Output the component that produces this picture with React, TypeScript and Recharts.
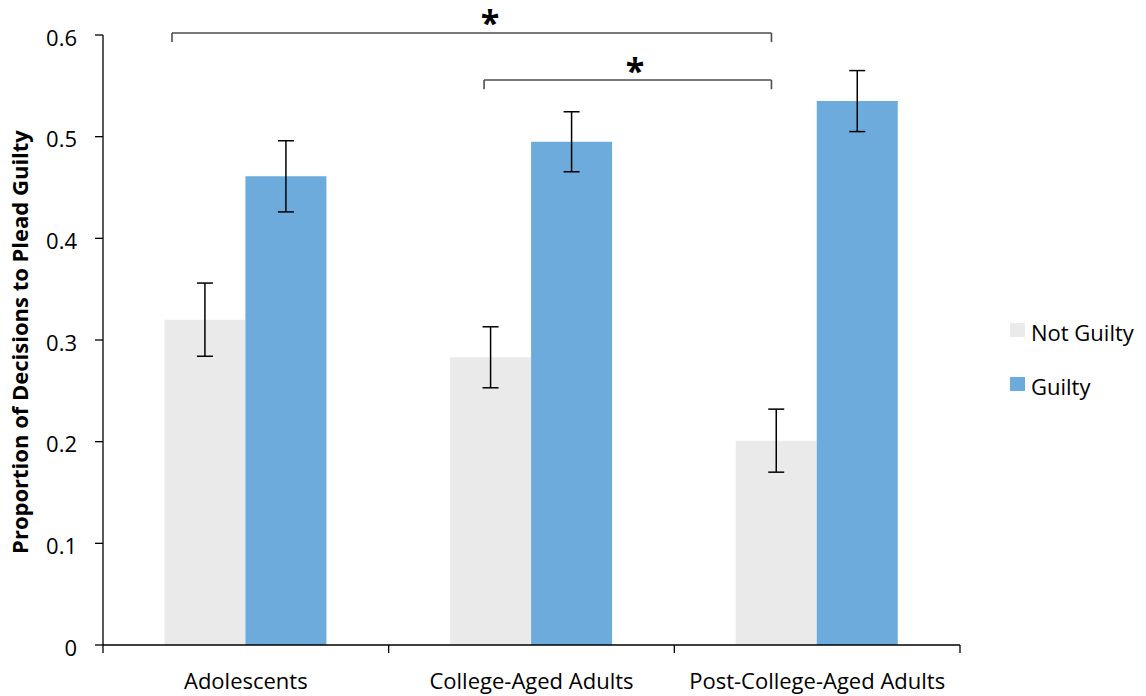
import React from 'react';
import { BarChart, Bar, XAxis, YAxis, ErrorBar, ReferenceLine, ReferenceDot, Legend } from 'recharts';

const categories = ['Adolescents', 'College-Aged Adults', 'Post-College-Aged Adults'];
const notGuilty = [0.32, 0.283, 0.201];
const notGuiltyErr = [0.036, 0.03, 0.031];
const guilty = [0.461, 0.495, 0.535];
const guiltyErr = [0.035, 0.0295, 0.03];
const yTicks = [0, 0.1, 0.2, 0.3, 0.4, 0.5, 0.6];
const seriesNames = ['Not Guilty', 'Guilty'];
const seriesColors = ['#EAEAEA', '#6CABDC'];
const yLabel = 'Proportion of Decisions to Plead Guilty';

// significance brackets, in data units (x on a 0..3 category-index scale)
const brackets = [
  { x1: 0.2415, x2: 2.34, y: 0.602, drop: 0.009, starX: 1.355, starY: 0.619 },
  { x1: 1.334, x2: 2.34, y: 0.5557, drop: 0.009, starX: 1.862, starY: 0.571 },
];

const data = categories.map((c, i) => ({
  category: c,
  pos: i + 0.5,
  ng: notGuilty[i],
  ngErr: notGuiltyErr[i],
  g: guilty[i],
  gErr: guiltyErr[i],
}));

const FONT = '"Open Sans", sans-serif';

const NumTick = (props: any) => {
  const { x, y, payload } = props;
  const v = payload.value;
  if (Number.isInteger(v)) {
    return <line x1={x} x2={x} y1={y - 8} y2={y} stroke="#000" strokeWidth={1.3} />;
  }
  return (
    <text x={x} y={y + 36} textAnchor="middle" fontFamily={FONT} fontSize={22} fill="#000">
      {categories[Math.floor(v)]}
    </text>
  );
};

const LegendContent = () => (
  <div style={{ position: 'relative', width: 134, height: 90, fontFamily: FONT, fontSize: 22, color: '#000' }}>
    {seriesNames.map((n, i) => (
      <React.Fragment key={n}>
        <div
          style={{
            position: 'absolute',
            left: 0,
            top: i * 54 + 5,
            width: 15,
            height: 14,
            background: seriesColors[i],
          }}
        />
        <div
          style={{
            position: 'absolute',
            left: 21,
            top: i * 54 - 1.5,
            lineHeight: '30px',
            whiteSpace: 'nowrap',
          }}
        >
          {n}
        </div>
      </React.Fragment>
    ))}
  </div>
);

export default function App() {
  return (
    <div style={{ position: 'absolute', left: 0, top: 0, background: '#fff' }}>
      <BarChart
        width={1146}
        height={696}
        data={data}
        margin={{ top: 35, right: 186, bottom: 0, left: 0 }}
        barCategoryGap="21.5%"
        barGap={0}
      >
        <XAxis xAxisId="cat" dataKey="category" hide height={0} />
        <XAxis
          xAxisId="num"
          dataKey="pos"
          type="number"
          domain={[0, 3]}
          ticks={[0, 0.5, 1, 1.5, 2, 2.5, 3]}
          tick={<NumTick />}
          tickLine={false}
          tickSize={8}
          tickMargin={0}
          height={51}
          axisLine={{ stroke: '#000', strokeWidth: 1.3 }}
          allowDataOverflow
          interval={0}
        />
        <YAxis
          domain={[0, 0.6]}
          ticks={yTicks}
          width={103}
          tickSize={8}
          tickMargin={18}
          interval={0}
          tickFormatter={(v: number) => (v === 0 ? '0' : v.toFixed(1))}
          tick={{ fontFamily: FONT, fontSize: 22, fill: '#000', dy: 3 }}
          axisLine={{ stroke: '#000', strokeWidth: 1.3 }}
          tickLine={{ stroke: '#000', strokeWidth: 1.3 }}
          label={{
            value: yLabel,
            content: (p: any) => {
              const vb = p.viewBox || {};
              const cy = (vb.y ?? 35) + (vb.height ?? 610) / 2 + 2;
              return (
                <text
                  x={28}
                  y={cy}
                  transform={`rotate(-90, 28, ${cy})`}
                  textAnchor="middle"
                  fontFamily={FONT}
                  fontWeight="bold"
                  fontSize={22}
                  fill="#000"
                >
                  {yLabel}
                </text>
              );
            },
          }}
        />
        <Legend
          layout="vertical"
          align="center"
          verticalAlign="middle"
          content={<LegendContent />}
          wrapperStyle={{ left: 1010, top: 318, width: 134, height: 90 }}
        />
        <Bar xAxisId="cat" dataKey="ng" name={seriesNames[0]} fill={seriesColors[0]} isAnimationActive={false}>
          <ErrorBar dataKey="ngErr" width={8} stroke="#000" strokeWidth={1.5} direction="y" />
        </Bar>
        <Bar xAxisId="cat" dataKey="g" name={seriesNames[1]} fill={seriesColors[1]} isAnimationActive={false}>
          <ErrorBar dataKey="gErr" width={8} stroke="#000" strokeWidth={1.5} direction="y" />
        </Bar>
        {brackets.map((b, i) => (
          <React.Fragment key={i}>
            <ReferenceLine
              xAxisId="num"
              segment={[{ x: b.x1, y: b.y }, { x: b.x2, y: b.y }]}
              stroke="#4d4d4d"
              strokeWidth={1.6}
              ifOverflow="visible"
            />
            <ReferenceLine
              xAxisId="num"
              segment={[{ x: b.x1, y: b.y }, { x: b.x1, y: b.y - b.drop }]}
              stroke="#4d4d4d"
              strokeWidth={1.6}
              ifOverflow="visible"
            />
            <ReferenceLine
              xAxisId="num"
              segment={[{ x: b.x2, y: b.y }, { x: b.x2, y: b.y - b.drop }]}
              stroke="#4d4d4d"
              strokeWidth={1.6}
              ifOverflow="visible"
            />
            <ReferenceDot
              xAxisId="num"
              x={b.starX}
              y={b.starY}
              r={0}
              ifOverflow="visible"
              shape={(p: any) => (
                <text
                  x={p.cx}
                  y={p.cy}
                  dy={19}
                  textAnchor="middle"
                  fontFamily={FONT}
                  fontWeight="bold"
                  fontSize={34}
                  fill="#000"
                >
                  *
                </text>
              )}
            />
          </React.Fragment>
        ))}
      </BarChart>
    </div>
  );
}
